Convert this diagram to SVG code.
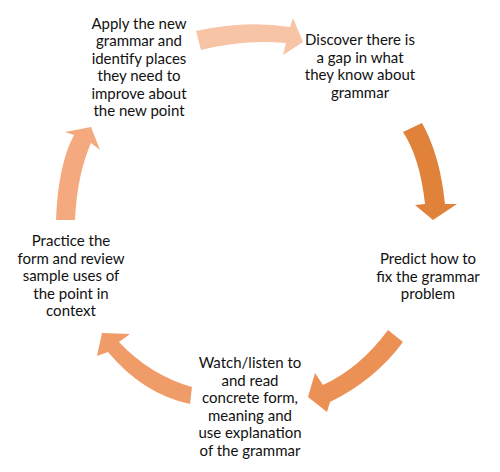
<svg xmlns="http://www.w3.org/2000/svg" width="500" height="472" viewBox="0 0 500 472">
<style>
text{font-family:Lato,"Liberation Sans",sans-serif;font-size:15px;fill:#111;text-anchor:middle}
</style>
<rect width="500" height="472" fill="#fff"/>
<g id="connectors">
<path id="a1" d="M196,31 Q245,20 290,27 L293,18 L303,42 L283,55 L286,43 Q245,39 201,50 Z" fill="#F8C4A6"/>
<path id="a2" d="M403,132 Q420,158 425,204 L415,205 L433,220 L457,204 L445,204 Q440,155 422,123 Z" fill="#E1823A"/>
<path id="a3" d="M388,330 Q360,368 323,385 L315,373 L308,397 L327,412 L330,402 Q375,380 403,342 Z" fill="#EC9155"/>
<path id="a4" d="M192,387 Q150,375 119,342 L130,334 L102,333 L97,356 L108,352 Q143,394 190,404 Z" fill="#F09C69"/>
<path id="a5" d="M56,220 Q58,165 74,135 L65,132 L91,127 L100,150 L91,143 Q77,175 75,220 Z" fill="#F4AA7E"/>
</g>
<g id="n1"><text x="139" y="29">Apply the new</text><text x="139" y="46.4">grammar and</text><text x="139" y="63.8">identify places</text><text x="139" y="81.2">they need to</text><text x="139" y="98.6">improve about</text><text x="139" y="116">the new point</text></g>
<g id="n2"><text x="360" y="45">Discover there is</text><text x="360" y="62.5">a gap in what</text><text x="360" y="80">they know about</text><text x="360" y="97.5">grammar</text></g>
<g id="n3"><text x="428" y="264">Predict how to</text><text x="428" y="281.5">fix the grammar</text><text x="428" y="299">problem</text></g>
<g id="n4"><text x="250" y="368">Watch/listen to</text><text x="250" y="385.5">and read</text><text x="250" y="403">concrete form,</text><text x="250" y="420.5">meaning and</text><text x="250" y="438">use explanation</text><text x="250" y="455.5">of the grammar</text></g>
<g id="n5"><text x="71" y="246">Practice the</text><text x="71" y="263.5">form and review</text><text x="71" y="281">sample uses of</text><text x="71" y="298.5">the point in</text><text x="71" y="316">context</text></g>
</svg>
